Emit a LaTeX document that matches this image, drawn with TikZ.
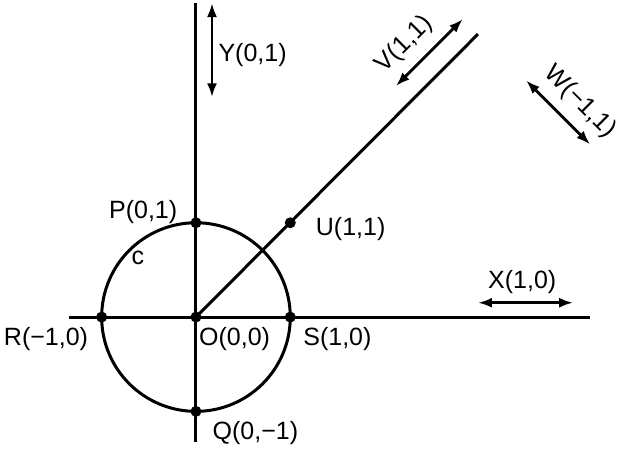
\documentclass[tikz,border=0pt]{standalone}
\usepackage{fontspec}
\setmainfont{Liberation Sans}
\usetikzlibrary{arrows.meta}
\tikzset{
  axis/.style={line width=1.5pt},
  dbl/.style={line width=1.4pt,{Latex[length=7pt,width=5pt]}-{Latex[length=7pt,width=5pt]}},
  dot/.style={circle,fill,inner sep=0pt,minimum size=5.5pt},
  lbl/.style={font=\fontsize{12.5}{14}\selectfont,inner sep=0pt}
}
\begin{document}
\begin{tikzpicture}[x=47.15pt,y=47.15pt]
		\useasboundingbox (-2.078,-1.410) rectangle (4.581,3.362);
		% axes and ray
		\coordinate (ytop) at (0,3.33);
		\coordinate (ybot) at (0,-1.33);
		\coordinate (xl) at (-1.35,0);
		\coordinate (xr) at (4.18,0);
		\coordinate (ray) at (2.99,3.0);
		\draw[axis] (ytop) -- (ybot);
		\draw[axis] (xl) -- (xr);
		\draw[axis] (0,0) circle (1);
		\draw[axis] (0,0) -- (ray);
		% points
		\node[dot] (O) at (0,0) {};
		\node[dot] (P) at (0,1) {};
		\node[dot] (Q) at (0,-1) {};
		\node[dot] (R) at (-1,0) {};
		\node[dot] (S) at (1,0) {};
		\node[dot] (U) at (1,1) {};
		% direction arrows
		\coordinate (y1) at (0.17,3.33);
		\coordinate (y2) at (0.17,2.33);
		\coordinate (v1) at (2.12,2.45);
		\coordinate (v2) at (2.83,3.16);
		\coordinate (w1) at (3.50,2.51);
		\coordinate (w2) at (4.18,1.83);
		\coordinate (x1) at (2.99,0.152);
		\coordinate (x2) at (4.00,0.152);
		\draw[dbl] (y1) -- (y2);
		\draw[dbl] (v1) -- (v2);
		\draw[dbl] (w1) -- (w2);
		\draw[dbl] (x1) -- (x2);
		% labels
		\node[lbl] (Plbl) at (-0.56,1.11) {P(0,1)};
		\node[lbl] (Ulbl) at (1.64,0.93) {U(1,1)};
		\node[lbl] (clbl) at (-0.615,0.63) {c};
		\node[lbl] (Rlbl) at (-1.59,-0.23) {R(−1,0)};
		\node[lbl] (Olbl) at (0.41,-0.23) {O(0,0)};
		\node[lbl] (Slbl) at (1.50,-0.23) {S(1,0)};
		\node[lbl] (Qlbl) at (0.63,-1.23) {Q(0,−1)};
		\node[lbl] (Ylbl) at (0.60,2.78) {Y(0,1)};
		\node[lbl] (Xlbl) at (3.46,0.37) {X(1,0)};
		\node[lbl,rotate=45] (Vlbl) at (2.21,2.89) {V(1,1)};
		\node[lbl,rotate=-45] (Wlbl) at (4.07,2.28) {W(−1,1)};
\end{tikzpicture}
\end{document}
